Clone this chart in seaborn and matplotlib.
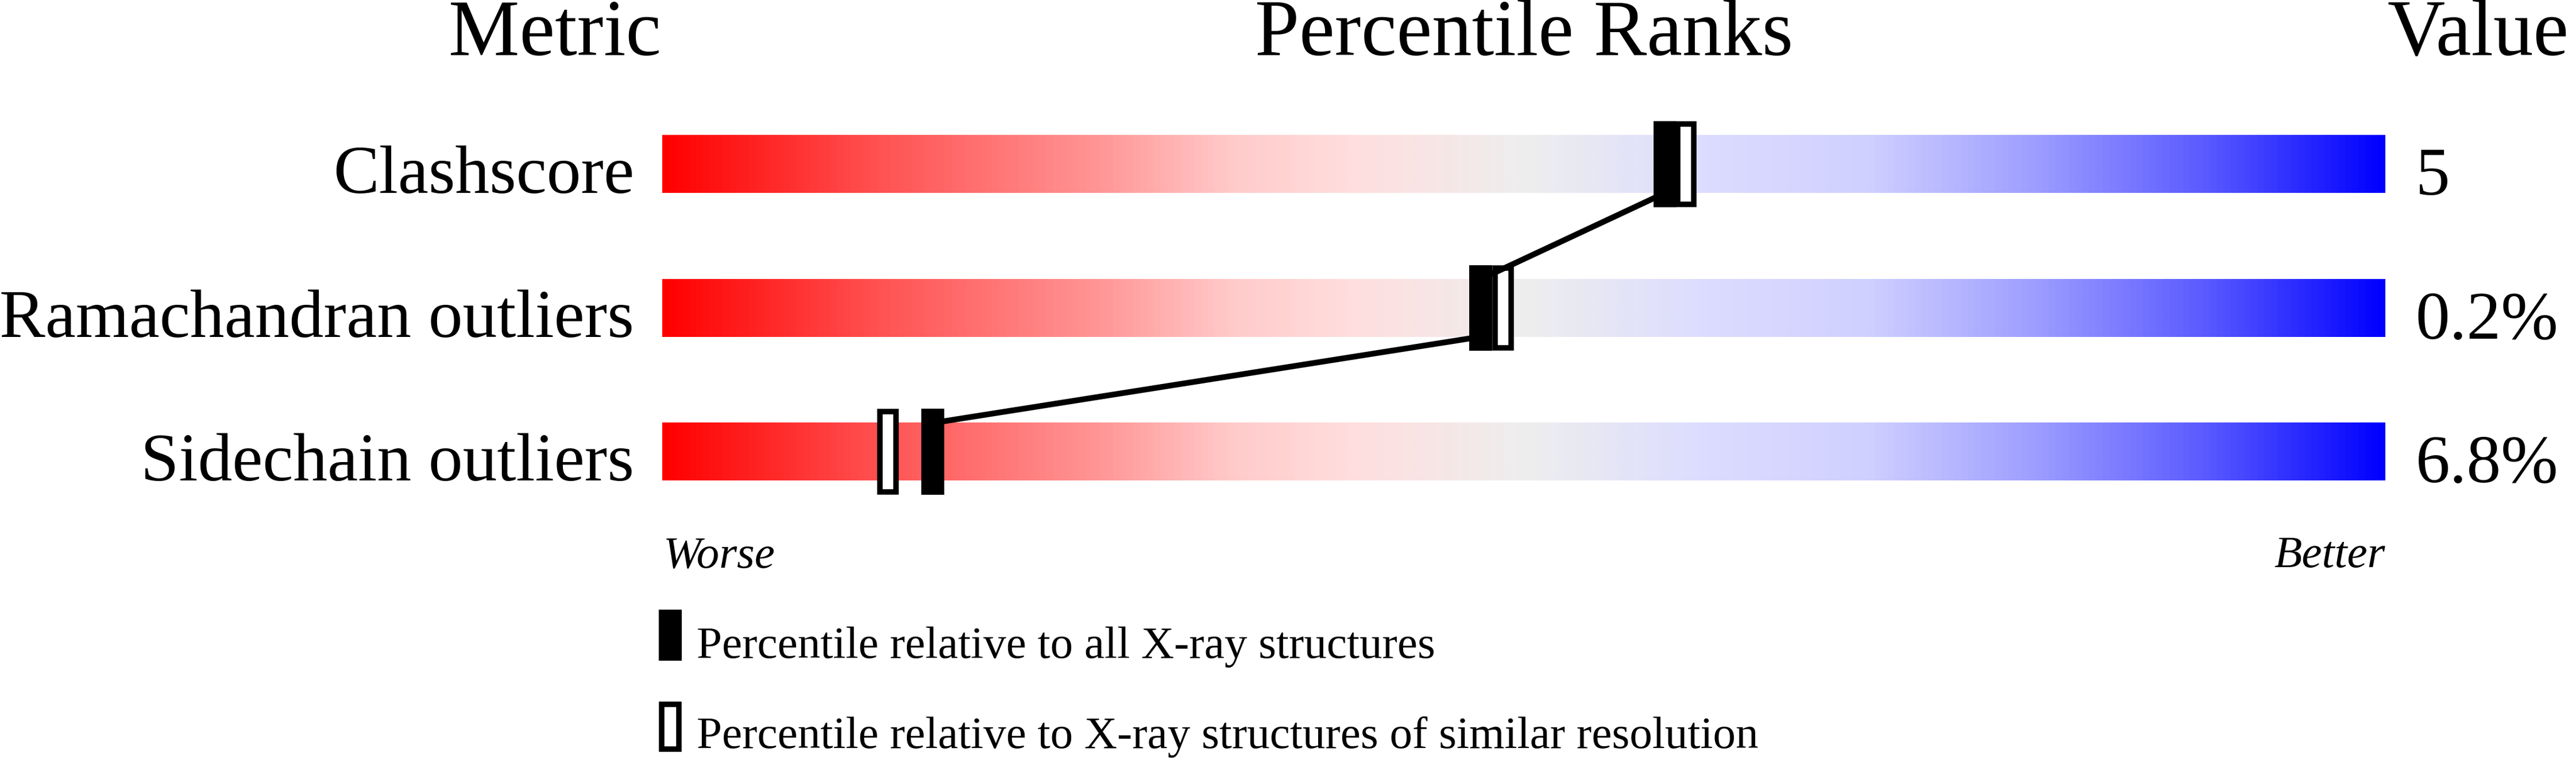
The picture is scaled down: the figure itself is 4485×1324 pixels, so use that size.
import numpy as np
import pandas as pd
import matplotlib
matplotlib.use("Agg")
import matplotlib.pyplot as plt
from matplotlib.colors import LinearSegmentedColormap
import seaborn as sns

metrics = ["Clashscore", "Ramachandran outliers", "Sidechain outliers"]
values = ["5", "0.2%", "6.8%"]
pct_all = [58.2, 47.5, 15.7]        # percentile vs all X-ray structures
pct_similar = [59.4, 48.8, 13.1]    # percentile vs similar resolution
headers = ["Metric", "Percentile Ranks", "Value"]
legend_labels = ["Percentile relative to all X-ray structures",
                 "Percentile relative to X-ray structures of similar resolution"]

# red -> grey -> blue slider colours
grad_stops = [(0.0, "#ff0000"), (0.125, "#ff5252"), (0.25, "#ff9494"),
              (0.33, "#ffcaca"), (0.4, "#ffdede"), (0.5, "#eeeeee"),
              (0.6, "#ddddff"), (0.7, "#d0d0ff"), (0.8, "#9c9cff"),
              (0.9, "#5858ff"), (1.0, "#0000ff")]
cmap = LinearSegmentedColormap.from_list("slider", grad_stops)

W, H, DPI = 4485, 1324, 100
X0, XSCALE = 1153, 30.0      # pixel of percentile 0, pixels per percentile
Y0, YSCALE = 286, 250.5      # pixel of first row centre, pixels per row


def px_x(px):
    return (px - X0) / XSCALE


def px_y(py):
    return (py - Y0) / YSCALE


sns.set_style("white")
plt.rcParams["font.family"] = ["Liberation Serif", "DejaVu Serif"]
plt.rcParams["text.color"] = "black"

fig = plt.figure(figsize=(W / DPI, H / DPI), dpi=DPI)
ax = fig.add_axes([0, 0, 1, 1])

# background bars (full width) drawn by seaborn, then filled with gradient
df = pd.DataFrame({"metric": metrics, "full": [100] * len(metrics)})
sns.barplot(data=df, x="full", y="metric", orient="h", width=0.4,
            color="white", linewidth=0, ax=ax)
grad = np.linspace(0, 1, 1024).reshape(1, -1)
for patch in list(ax.patches):
    bb = patch.get_bbox()
    ax.imshow(grad, cmap=cmap, aspect="auto", interpolation="bilinear",
              extent=(bb.x0, bb.x1, bb.y1, bb.y0), zorder=1.5)

rows = np.arange(len(metrics))

# connecting line between the "all structures" markers
line_x, line_y = [], []
for i, p in enumerate(pct_all):
    if i > 0:
        line_x.append(p)
        line_y.append(i - 0.2)
    if i < len(pct_all) - 1:
        line_x.append(p)
        line_y.append(i + 0.2)
sns.lineplot(x=line_x, y=line_y, sort=False, estimator=None, color="black",
             linewidth=7.2, zorder=4, ax=ax)

# markers
mk_h = 0.596
edge_px = 9.5
ax.bar(pct_all, mk_h, width=40 / XSCALE, bottom=rows - mk_h / 2,
       color="black", linewidth=0, zorder=5)
open_h = mk_h - edge_px / YSCALE
ax.bar(pct_similar, open_h, width=(38 - edge_px) / XSCALE,
       bottom=rows - open_h / 2, facecolor="white", edgecolor="black",
       linewidth=edge_px * 72 / DPI, zorder=3.5)

# headers
hdr_y = px_y(96)
ax.text(px_x(1151), hdr_y, headers[0], ha="right", va="baseline", fontsize=100)
ax.text(50, hdr_y, headers[1], ha="center", va="baseline", fontsize=100)
ax.text(px_x(4156), hdr_y, headers[2], ha="left", va="baseline", fontsize=100)

# row labels and values
for i in rows:
    ax.text(px_x(1104), i + 0.2, metrics[i], ha="right", va="baseline",
            fontsize=86)
    ax.text(px_x(4206), i + 0.2 + 0.012, values[i], ha="left", va="baseline",
            fontsize=86)

# worse / better
ax.text(px_x(1155), px_y(988), "Worse", ha="left", va="baseline",
        fontsize=57, style="italic")
ax.text(100, px_y(988), "Better", ha="right", va="baseline",
        fontsize=57, style="italic")

# legend
ax.bar([px_x(1167)], [89 / YSCALE], width=40 / XSCALE, bottom=[px_y(1062)],
       color="black", linewidth=0, zorder=5)
ax.bar([px_x(1167)], [(88 - edge_px) / YSCALE], width=(40 - edge_px) / XSCALE,
       bottom=[px_y(1222 + edge_px / 2)], facecolor="white", edgecolor="black",
       linewidth=edge_px * 72 / DPI, zorder=5)
ax.text(px_x(1213), px_y(1146), legend_labels[0], ha="left", va="baseline",
        fontsize=57)
ax.text(px_x(1213), px_y(1303), legend_labels[1], ha="left", va="baseline",
        fontsize=57)

ax.set_xlim(px_x(0), px_x(W))
ax.set_ylim(px_y(H), px_y(0))
ax.axis("off")

fig.savefig("out.png", dpi=DPI)
